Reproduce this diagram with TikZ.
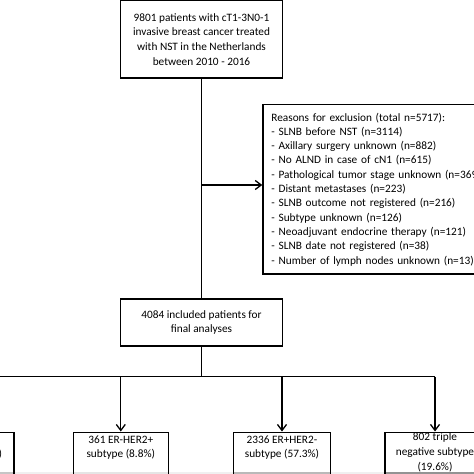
\documentclass[tikz,border=0pt]{standalone}
\usepackage{fontspec}
\setmainfont{Carlito}
\usetikzlibrary{arrows.meta}
\begin{document}
\begin{tikzpicture}[x=1pt,y=-1pt, line width=1.3pt,
  box/.style={draw, rectangle, inner sep=0pt},
  txt/.style={align=center, font=\fontsize{11.3}{14.6}\selectfont, inner sep=0pt},
  arr/.style={-{Straight Barb[length=6pt,width=9pt,line width=1.3pt]}}]
\useasboundingbox (0,0) rectangle (474,474);
\clip (0,0) rectangle (474,474);
\fill[white] (0,0) rectangle (474,474);
% bottom strip
\fill[gray!12] (0,471.5) rectangle (474,474);
\fill[gray!45] (-81,471.5) rectangle (14.3,474);
\fill[gray!20] (73.3,471.5) rectangle (168.3,474);
\fill[gray!55] (233.3,471.5) rectangle (330.7,474);
\fill[gray!85] (385,471.5) rectangle (485,474);

\node[box, txt, minimum width=161.6pt, minimum height=77.5pt] (top) at (201.5,39.3)
  {9801 patients with cT1-3N0-1\\invasive breast cancer treated\\with NST in the Netherlands\\between 2010 - 2016};

\node[box, anchor=north west, minimum height=169.3pt, text width=220pt, align=left,
  inner xsep=8.4pt, inner ysep=0pt, font=\fontsize{11.3}{14.3}\selectfont] (excl) at (262.3,104)
  {Reasons for exclusion (total n=5717):\\
   - SLNB before NST (n=3114)\\
   - Axillary surgery unknown (n=882)\\
   - No ALND in case of cN1 (n=615)\\
   - Pathological tumor stage unknown (n=369)\\
   - Distant metastases (n=223)\\
   - SLNB outcome not registered (n=216)\\
   - Subtype unknown (n=126)\\
   - Neoadjuvant endocrine therapy (n=121)\\
   - SLNB date not registered (n=38)\\
   - Number of lymph nodes unknown (n=13)};

\node[box, txt, minimum width=161.6pt, minimum height=47pt] (inc) at (201.5,322.5)
  {4084 included patients for\\final analyses};

\coordinate (ex) at (201.5,185);
\coordinate (split) at (201.5,376.7);
\draw (top.south) -- (inc.north);
\draw[arr] (ex) -- (ex -| excl.west);
\draw (inc.south) -- (split);

\node[box, anchor=north, minimum width=95pt, minimum height=60pt] (b585) at (-33.5,431.5) {};
\node[box, anchor=north, minimum width=95pt, minimum height=60pt] (b361) at (120.8,431.5) {};
\node[box, anchor=north, minimum width=97.4pt, minimum height=60pt] (b2336) at (282,431.5) {};
\node[box, anchor=north, minimum width=100pt, minimum height=60pt] (b802) at (435,431.5) {};

\node[txt] (t585) at (-35,447.5) {585 ER+HER2+\\subtype (14.3\%)};
\node[txt] (t361) at (120.8,447.5) {361 ER-HER2+\\subtype (8.8\%)};
\node[txt] (t2336) at (282,447.5) {2336 ER+HER2-\\subtype (57.3\%)};
\node[txt] (t802) at (435,452.3) {802 triple\\negative subtype\\(19.6\%)};

\draw (b585.north |- split) -- (b802.north |- split);
\foreach \b in {b585,b361,b2336,b802}
  \draw[arr] (\b.north |- split) -- (\b.north);
\end{tikzpicture}
\end{document}
